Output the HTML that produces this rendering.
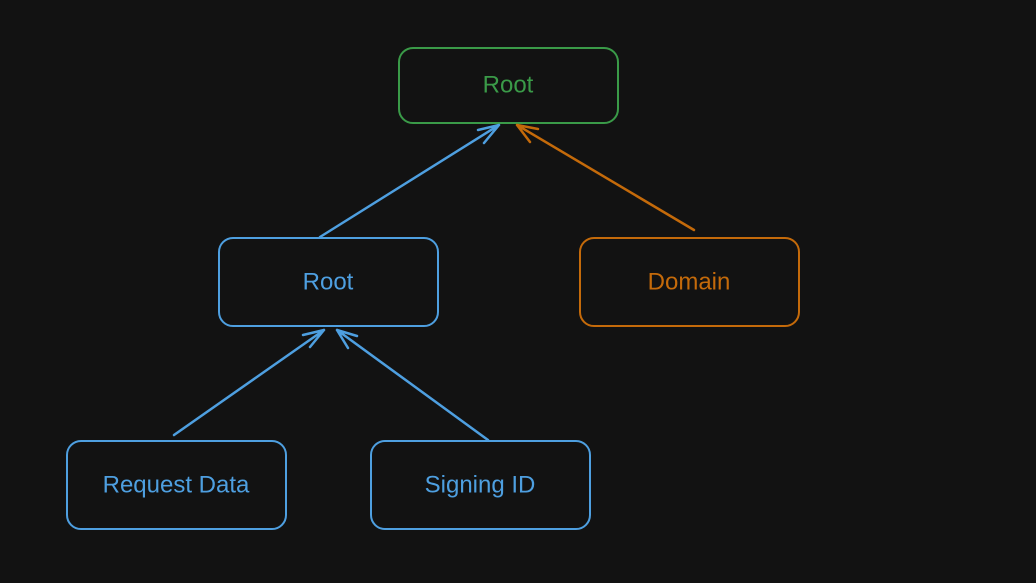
<!DOCTYPE html>
<html>
<head>
<meta charset="utf-8">
<style>
html,body{margin:0;padding:0;background:#121212;}
body{width:1036px;height:578px;overflow:hidden;}
svg text{font-family:"Liberation Sans",sans-serif;font-size:24px;}
</style>
</head>
<body>
<svg width="1036" height="578" viewBox="0 0 1036 578" xmlns="http://www.w3.org/2000/svg">
<rect width="1036" height="578" fill="#121212"/>
<g fill="none" stroke-width="2" stroke-linecap="round" stroke-linejoin="round">
  <rect x="399" y="48" width="219" height="75" rx="14" stroke="#3a9a48"/>
  <rect x="219" y="238" width="219" height="88" rx="14" stroke="#4e9fe0"/>
  <rect x="580" y="238" width="219" height="88" rx="14" stroke="#c46a0a"/>
  <rect x="67" y="441" width="219" height="88" rx="14" stroke="#4e9fe0"/>
  <rect x="371" y="441" width="219" height="88" rx="14" stroke="#4e9fe0"/>
  <g stroke="#4e9fe0" stroke-width="2.5">
    <path d="M320 237 L499 125 M499 125 L484 143 M499 125 L478 130"/>
    <path d="M174 435 L324 330 M324 330 L310 347 M324 330 L303 335"/>
    <path d="M488 440 L337 330 M337 330 L357 336 M337 330 L348 348"/>
  </g>
  <g stroke="#c46a0a" stroke-width="2.5">
    <path d="M694 230 L517 125 M517 125 L530 142 M517 125 L538 129"/>
  </g>
</g>
<g text-anchor="middle" dominant-baseline="central">
  <text x="508" y="85" fill="#3a9a48">Root</text>
  <text x="328" y="282" fill="#4e9fe0">Root</text>
  <text x="689" y="282" fill="#c46a0a">Domain</text>
  <text x="176" y="485" fill="#4e9fe0">Request Data</text>
  <text x="480" y="485" fill="#4e9fe0">Signing ID</text>
</g>
</svg>
</body>
</html>
